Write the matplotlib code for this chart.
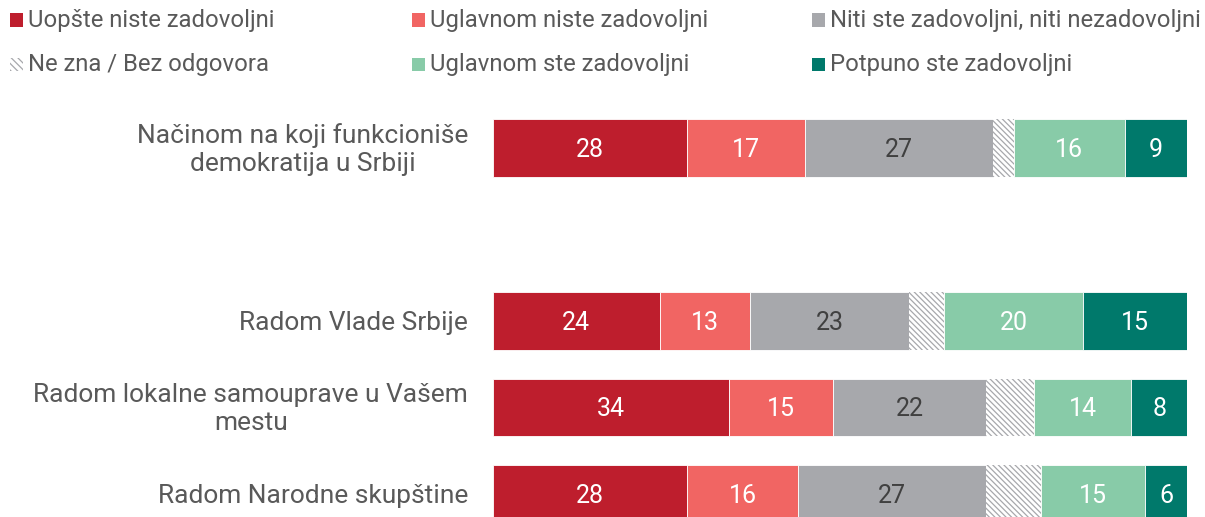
import matplotlib.pyplot as plt
from matplotlib.patches import Rectangle
import numpy as np

plt.rcParams['font.family'] = ['Roboto', 'DejaVu Sans']
plt.rcParams['hatch.linewidth'] = 0.9

# podaci
categories = ["Načinom na koji funkcioniše\ndemokratija u Srbiji",
              "Radom Vlade Srbije",
              "Radom lokalne samouprave u Vašem\nmestu",
              "Radom Narodne skupštine"]
series = ["Uopšte niste zadovoljni", "Uglavnom niste zadovoljni",
          "Niti ste zadovoljni, niti nezadovoljni", "Ne zna / Bez odgovora",
          "Uglavnom ste zadovoljni", "Potpuno ste zadovoljni"]
uopste = [28, 24, 34, 28]
uglavnom_niste = [17, 13, 15, 16]
niti = [27, 23, 22, 27]
ne_zna = [3, 5, 7, 8]
uglavnom_ste = [16, 20, 14, 15]
potpuno = [9, 15, 8, 6]

values = [uopste, uglavnom_niste, niti, ne_zna, uglavnom_ste, potpuno]
colors = ["#BE1E2D", "#F16563", "#A7A8AC", "white", "#88CBA8", "#00796B"]
txt_colors = ["white", "white", "#404040", None, "white", "white"]
ypos = [0, 2, 3, 4]

fig = plt.figure(figsize=(12.05, 5.17), dpi=100)
ax = fig.add_axes([493 / 1205, 0, 694 / 1205, 417 / 517])

left = np.zeros(len(categories))
for vals, col, tc, name in zip(values, colors, txt_colors, series):
    vals = np.array(vals, dtype=float)
    if name.startswith("Ne zna"):
        ax.barh(ypos, vals, left=left, height=0.67, color="white",
                edgecolor="#A7A8AC", linewidth=0, hatch="\\\\\\\\\\\\")
    else:
        ax.barh(ypos, vals, left=left, height=0.67, color=col,
                edgecolor="white", linewidth=0.6)
        for y, l, v in zip(ypos, left, vals):
            ax.text(l + v / 2, y + 0.02, f"{v:.0f}", ha="center", va="center",
                    color=tc, fontsize=18)
    left += vals

ax.set_xlim(0, 100)
ax.set_ylim(4.266, -0.555)
ax.axis("off")

for y, c in zip(ypos, categories):
    ax.text(-3.6, y + 0.02, c, ha="right", va="center", fontsize=19,
            color="#595959", linespacing=1.22, multialignment="center")

# legenda
leg_x = [10, 412, 812]
leg_y = [20, 64]
for i, (name, col) in enumerate(zip(series, colors)):
    x = leg_x[i % 3]
    y = leg_y[i // 3]
    if name.startswith("Ne zna"):
        r = Rectangle((x / 1205, 1 - (y + 6.5) / 517), 13 / 1205, 13 / 517,
                      transform=fig.transFigure, facecolor="white",
                      edgecolor="#A7A8AC", linewidth=0, hatch="\\\\\\\\\\")
    else:
        r = Rectangle((x / 1205, 1 - (y + 6.5) / 517), 13 / 1205, 13 / 517,
                      transform=fig.transFigure, facecolor=col, linewidth=0)
    fig.patches.append(r)
    fig.text((x + 18) / 1205, 1 - y / 517, name, ha="left", va="center",
             fontsize=17.2, color="#595959")

fig.savefig("out.png", dpi=100)
